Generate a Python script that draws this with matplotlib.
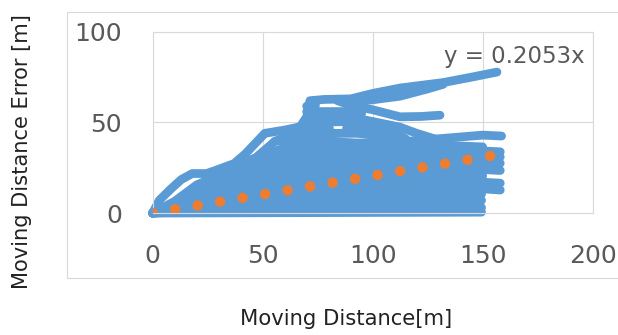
import numpy as np
import matplotlib
matplotlib.use("Agg")
import matplotlib.pyplot as plt
from matplotlib.patches import Rectangle

# Axis ticks
x_ticks = [0, 50, 100, 150, 200]
y_ticks = [0, 50, 100]

# Trendline from the chart
trend_slope = 0.2053
trend_label = "y = 0.2053x"

# Error curves: (distance, error) vertices
bulk_paths = [
    [(0, 0), (149.5, 0.5)],
    [(0, 0), (10, 0.5), (20, 1.5), (40, 3), (80, 4), (120, 4), (149.5, 3)],
    [(0, 0), (10, 1), (20, 3), (40, 6), (80, 8), (120, 8), (149.5, 7)],
    [(0, 0), (10, 1.5), (20, 4.5), (40, 9), (80, 12), (120, 12), (149.5, 10.5)],
    [(0, 0), (10, 2), (20, 6), (40, 12), (80, 16), (120, 16), (158, 12.7)],
    [(0, 0), (10, 2.5), (20, 7.5), (40, 15), (80, 20), (120, 19), (158, 16.5)],
    [(0, 0), (10, 3), (20, 9), (40, 18), (80, 24), (120, 22), (150, 20.5)],
    [(0, 0), (10, 3.5), (20, 10.5), (40, 21), (80, 28), (120, 26), (158, 23.5)],
    [(0, 0), (10, 4), (20, 12), (40, 24), (80, 31), (120, 30), (158, 27.5)],
    [(0, 0), (10, 5), (20, 13), (40, 26), (80, 34), (120, 33), (158, 31)],
    [(0, 0), (10, 5.5), (20, 14), (40, 27), (80, 37), (120, 36), (158, 33.8)],
    [(0, 0), (10, 6), (20, 15), (40, 27.5), (60, 36), (80, 39), (120, 38),
     (150, 36.5)],
    [(0, 0), (10, 6.5), (20, 15.5), (45, 28.6), (55.6, 39.6), (65, 41),
     (75, 40.5), (95, 38), (110, 39), (130, 41), (150, 43), (158.6, 42.5)],
]

upper_paths = [
    [(0, 0), (3, 7), (8, 13), (13, 18.5), (18, 21.8), (24.5, 21.8),
     (28.5, 23.5), (37, 27.3), (42, 32.5), (51, 44), (60, 45.8),
     (67, 47.6), (70, 53), (71.5, 62), (78, 62.7), (90, 63), (100, 66),
     (112.5, 69), (132, 72), (145, 75), (156.5, 77.8)],
    [(88, 61), (100, 62.5), (112.5, 64.5), (125, 68.5), (132, 71)],
    [(84, 62), (89.7, 59.6), (100, 57), (112.4, 53.1), (122, 53.3),
     (130.6, 54)],
    [(70, 59), (74, 59.5)],
    [(70, 56), (90, 56), (95, 55)],
    [(55.6, 39.6), (68, 46), (72, 53), (89.7, 53), (100, 50.5),
     (112.4, 47.4), (120, 44), (128, 41)],
    [(60, 42), (70, 50), (90, 50.5), (100, 47), (110, 44), (115, 41)],
    [(70, 47), (80, 47)],
    [(88, 47), (95, 47)],
    [(62, 40), (75, 44), (93, 44), (100, 43), (110, 41)],
]

BLUE = "#5B9BD5"
ORANGE = "#ED7D31"
GRID = "#D9D9D9"
TICK = "#595959"

plt.rcParams["font.family"] = ["DejaVu Sans"]

fig = plt.figure(figsize=(6.18, 3.35), dpi=100)

# chart area border (cropped in the original)
fig.patches.append(Rectangle((0.1084, 0.170), 1.0, 0.794, transform=fig.transFigure,
                             fill=False, edgecolor=GRID, linewidth=0.8))

ax = fig.add_axes([0.247, 0.364, 0.712, 0.541])

for path in bulk_paths + upper_paths:
    xs = [p[0] for p in path]
    ys = [p[1] for p in path]
    ax.plot(xs, ys, color=BLUE, linewidth=6.3, solid_capstyle="round",
            solid_joinstyle="round", clip_on=False, zorder=2)

x_max = max(p[0] for path in bulk_paths + upper_paths for p in path)
tx = np.array([0.0, x_max])
ax.plot(tx, trend_slope * tx, color=ORANGE, linewidth=7.6,
        linestyle=(0, (0.001, 2.16)), dash_capstyle="round", zorder=3)

ax.text(196.5, 82.6, trend_label, ha="right", va="baseline",
        fontsize=16.5, color=TICK, zorder=4)

ax.set_xlim(0, 200)
ax.set_ylim(0, 100)
ax.set_xticks(x_ticks)
ax.set_yticks(y_ticks)
ax.grid(True, color=GRID, linewidth=0.8)
ax.set_axisbelow(True)
for s in ax.spines.values():
    s.set_color(GRID)
    s.set_linewidth(0.8)
ax.tick_params(length=0, labelsize=18, labelcolor=TICK)
ax.tick_params(axis="x", pad=22)
ax.tick_params(axis="y", pad=22)

fig.text(346 / 618, 0.048, "Moving Distance[m]", ha="center", va="center",
         fontsize=15.2, color="#222222")
fig.text(22 / 618, 0.549, "Moving Distance Error [m]", ha="center", va="center",
         rotation=90, fontsize=15.1, color="#222222")

fig.savefig("out.png", dpi=100)
